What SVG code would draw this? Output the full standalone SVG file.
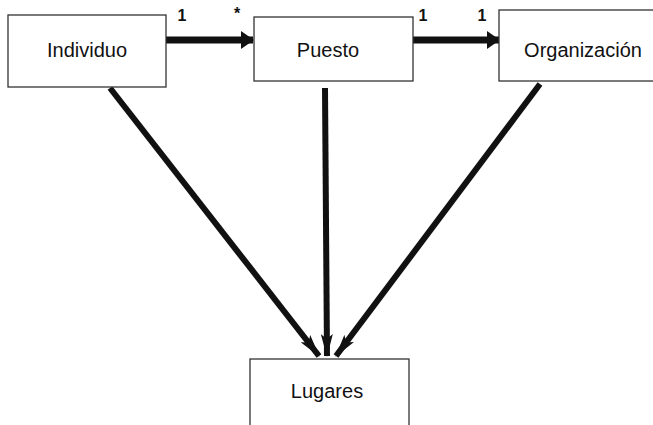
<svg xmlns="http://www.w3.org/2000/svg" width="653" height="425" viewBox="0 0 653 425">
<style>
.box{fill:#fff;stroke:#333;stroke-width:1.3}
.lbl{font-family:"Liberation Sans",Arial,sans-serif;font-size:20px;fill:#111;text-anchor:middle}
.mult{font-family:"Liberation Sans",Arial,sans-serif;font-size:16px;font-weight:bold;fill:#111;text-anchor:middle}
.thick{stroke:#111;stroke-width:7;fill:none}
.diag{stroke:#111;stroke-width:6;fill:none}
</style>
<defs>
<marker id="ah" markerUnits="userSpaceOnUse" markerWidth="14" markerHeight="18" refX="12" refY="9" orient="auto">
<path d="M0,0 L13,9 L0,18 Z" fill="#111"/>
</marker>
<marker id="ad" markerUnits="userSpaceOnUse" markerWidth="24" markerHeight="12" refX="22" refY="6" orient="auto">
<path d="M0,0 L23,6 L0,12 L5,6 Z" fill="#111"/>
</marker>
</defs>
<rect width="653" height="425" fill="#fff"/>
<g id="connectors">
<line class="thick" x1="166" y1="40" x2="253" y2="40" marker-end="url(#ah)"/>
<line class="thick" x1="413" y1="40" x2="499" y2="40" marker-end="url(#ah)"/>
<line class="diag" x1="110" y1="88" x2="319" y2="356" marker-end="url(#ad)"/>
<line class="diag" x1="325" y1="88" x2="327" y2="356" marker-end="url(#ad)"/>
<line class="diag" x1="540" y1="84" x2="336" y2="356" marker-end="url(#ad)"/>
<text class="mult" x="182" y="21">1</text>
<text class="mult" x="237" y="19">*</text>
<text class="mult" x="423" y="21">1</text>
<text class="mult" x="482" y="21">1</text>
</g>
<g id="individuo">
<rect class="box" x="8" y="15" width="158" height="72"/>
<text class="lbl" x="87" y="57">Individuo</text>
</g>
<g id="puesto">
<rect class="box" x="254" y="17" width="159" height="64"/>
<text class="lbl" x="328" y="57">Puesto</text>
</g>
<g id="organizacion">
<rect class="box" x="499" y="10" width="160" height="71"/>
<text class="lbl" x="583" y="57">Organización</text>
</g>
<g id="lugares">
<rect class="box" x="250" y="359" width="159" height="72"/>
<text class="lbl" x="327" y="398">Lugares</text>
</g>
</svg>
